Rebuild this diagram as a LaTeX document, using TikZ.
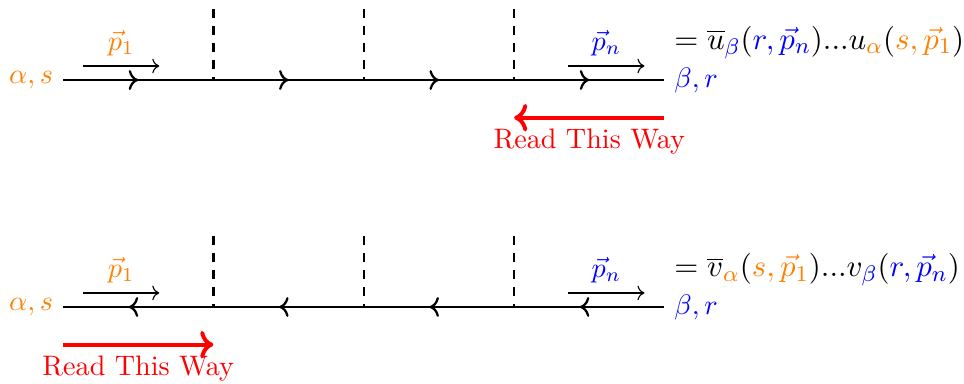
\documentclass[tikz,border=0pt]{standalone}
\usepackage{tikz}
\usetikzlibrary{arrows.meta, positioning, decorations.markings}
\definecolor{cin}{HTML}{FF8000}
\definecolor{cout}{HTML}{0000FF}
\definecolor{cread}{HTML}{FF0000}

\begin{document}
\begin{tikzpicture}[
      fermion/.style={thick, postaction={decorate},
                      decoration={markings, mark=at position 0.5 with {\arrow{>}}}},
      antifermion/.style={thick, postaction={decorate},
                      decoration={markings, mark=at position 0.5 with {\arrow{<}}}},
      cut/.style={thick, dashed},
      mom/.style={->},
      spinor/.style={anchor=base west, font=\fontsize{10.95}{13.6}\selectfont},
      readway/.style={->, line width=1.4pt, draw=cread},
      rlbl/.style={below, text=cread}]
    \useasboundingbox (-0.786,0.998) rectangle (11.235,-3.79);

    % vertices and cuts
    \foreach \i in {0,...,4} {
      \coordinate (u\i) at (1.875*\i, 0);
      \coordinate (v\i) at (1.875*\i, -2.83);
      \coordinate (ut\i) at (1.875*\i, 0.88);
      \coordinate (vt\i) at (1.875*\i, -1.95);
    }
    \foreach \i in {1,2,3} {
      \draw[cut] (ut\i) -- (u\i);
      \draw[cut] (vt\i) -- (v\i);
    }

    % particle line (u) and antiparticle line (v)
    \foreach \i [count=\j] in {0,...,3} {
      \draw[fermion] (u\i) -- (u\j);
      \draw[antifermion] (v\i) -- (v\j);
    }

    % momenta
    \coordinate (k1a) at (0.25, 0.175);  \coordinate (k1b) at (1.2, 0.175);
    \coordinate (kna) at (6.3, 0.175);   \coordinate (knb) at (7.25, 0.175);
    \coordinate (q1a) at (0.25, -2.655); \coordinate (q1b) at (1.2, -2.655);
    \coordinate (qna) at (6.3, -2.655);  \coordinate (qnb) at (7.25, -2.655);
    \draw[mom] (k1a) -- node[above, text=cin] (p1u) {$\vec{p}_1$} (k1b);
    \draw[mom] (kna) -- node[above, text=cout] (pnu) {$\vec{p}_n$} (knb);
    \draw[mom] (q1a) -- node[above, text=cin] (p1v) {$\vec{p}_1$} (q1b);
    \draw[mom] (qna) -- node[above, text=cout] (pnv) {$\vec{p}_n$} (qnb);

    % end labels
    \node[left, text=cin] (inu) at (u0) {$\alpha, s$};
    \node[right, text=cout] (outu) at (u4) {$\beta, r$};
    \node[left, text=cin] (inv) at (v0) {$\alpha, s$};
    \node[right, text=cout] (outv) at (v4) {$\beta, r$};

    % spinor products
    \node[spinor] (equ) at (7.5, 0.385)
      {$= \overline{u}_{\textcolor{cout}{\beta}}(\textcolor{cout}{r, \vec{p}_n})...u_{\textcolor{cin}{\alpha}}(\textcolor{cin}{s, \vec{p}_1})$};
    \node[spinor] (eqv) at (7.5, -2.45)
      {$= \overline{v}_{\textcolor{cin}{\alpha}}(\textcolor{cin}{s, \vec{p}_1})...v_{\textcolor{cout}{\beta}}(\textcolor{cout}{r, \vec{p}_n})$};

    % reading direction
    \coordinate (ra) at (7.5, -0.47);  \coordinate (rb) at (5.625, -0.47);
    \coordinate (sa) at (0, -3.30);    \coordinate (sb) at (1.875, -3.30);
    \draw[readway] (ra) -- node[rlbl] (readu) {Read This Way} (rb);
    \draw[readway] (sa) -- node[rlbl] (readv) {Read This Way} (sb);
  \end{tikzpicture}
\end{document}
